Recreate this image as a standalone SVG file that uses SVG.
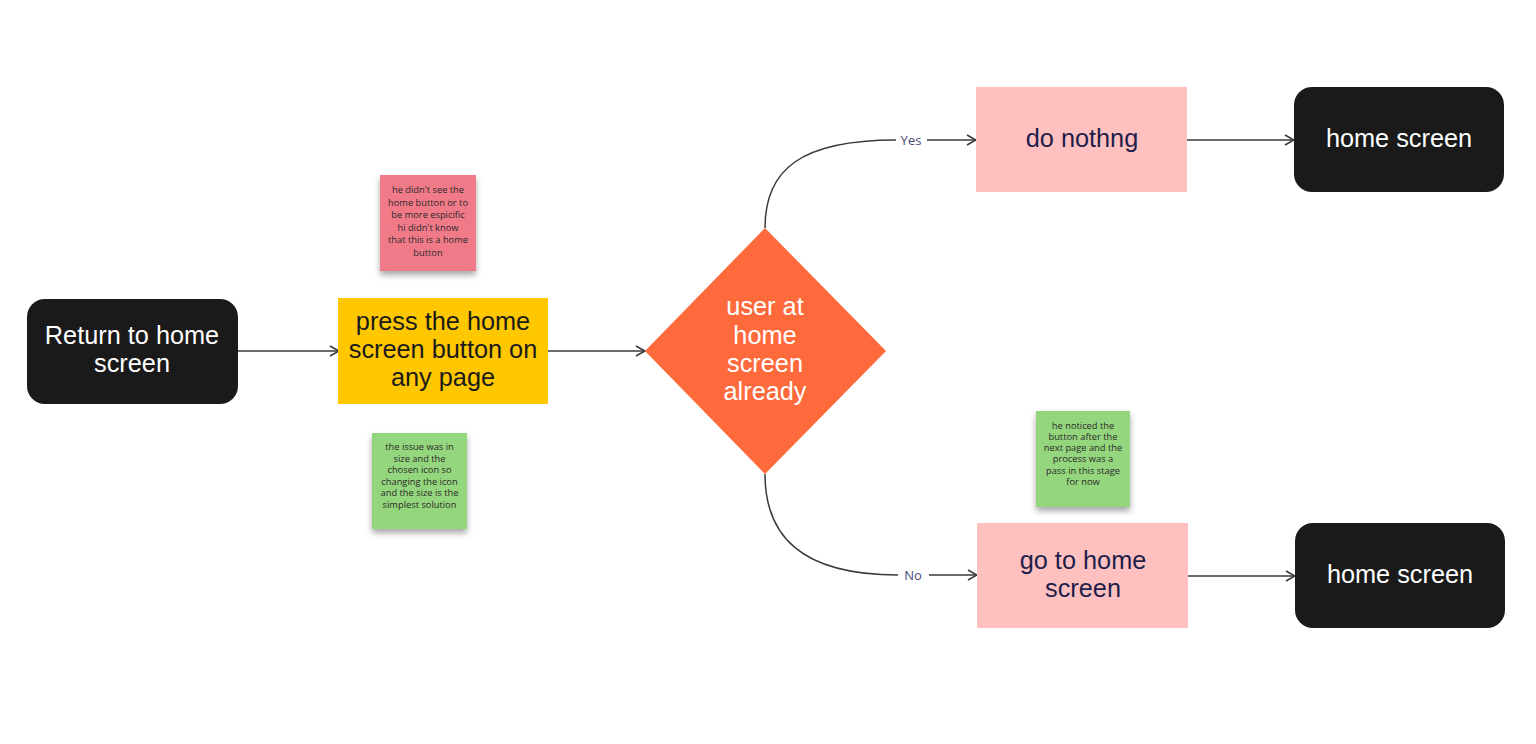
<svg xmlns="http://www.w3.org/2000/svg" width="1536" height="744" viewBox="0 0 1536 744">
<defs>
<marker id="arr" viewBox="0 0 12 12" refX="11" refY="6" markerWidth="12" markerHeight="12" markerUnits="userSpaceOnUse" orient="auto">
<path d="M2,1 L11,6 L2,11" fill="none" stroke="#3a3a3a" stroke-width="1.6"/>
</marker>
<filter id="sh" x="-20%" y="-20%" width="140%" height="150%">
<feGaussianBlur in="SourceAlpha" stdDeviation="3"/>
<feOffset dx="0" dy="4"/>
<feComponentTransfer><feFuncA type="linear" slope="0.35"/></feComponentTransfer>
<feMerge><feMergeNode/><feMergeNode in="SourceGraphic"/></feMerge>
</filter>
</defs>
<style>
.t{font-family:"Liberation Sans",Arial,sans-serif;font-size:25.3px;text-anchor:middle}
.w{fill:#ffffff}
.d{fill:#1a1a1a}
.n{fill:#1e1e4a}
.s{font-family:"Open Sans","Liberation Sans",sans-serif;font-size:9.3px;text-anchor:middle;fill:#2a2a2a}
.lbl{font-family:"Open Sans","Liberation Sans",sans-serif;font-size:13px;fill:#4a4a7a;text-anchor:middle}
.c{fill:none;stroke:#3a3a3a;stroke-width:1.5}
</style>
<rect width="1536" height="744" fill="#ffffff"/>
<g id="connectors">
<line class="c" x1="238" y1="351" x2="339" y2="351" marker-end="url(#arr)"/>
<line class="c" x1="548" y1="351" x2="645" y2="351" marker-end="url(#arr)"/>
<path class="c" d="M765,228 C765,170 800,140 896,140"/>
<line class="c" x1="927" y1="140" x2="976" y2="140" marker-end="url(#arr)"/>
<path class="c" d="M765,474 C765,535 800,575 898,575"/>
<line class="c" x1="929" y1="575" x2="977" y2="575" marker-end="url(#arr)"/>
<line class="c" x1="1187" y1="140" x2="1294" y2="140" marker-end="url(#arr)"/>
<line class="c" x1="1188" y1="576" x2="1295" y2="576" marker-end="url(#arr)"/>
<text class="lbl" x="911" y="144.5">Yes</text>
<text class="lbl" x="913" y="579.5">No</text>
</g>
<g id="start">
<rect x="27" y="299" width="211" height="105" rx="18" fill="#1a1a1a"/>
<text class="t w" x="132" y="344">Return to home</text>
<text class="t w" x="132" y="372">screen</text>
</g>
<g id="press">
<rect x="338" y="298" width="210" height="106" fill="#ffc700"/>
<text class="t d" x="443" y="330">press the home</text>
<text class="t d" x="443" y="358">screen button on</text>
<text class="t d" x="443" y="386">any page</text>
</g>
<g id="decision">
<polygon points="765,228 886,351 765,474 645,351" fill="#ff6a3c"/>
<text class="t w" x="765" y="315">user at</text>
<text class="t w" x="765" y="344">home</text>
<text class="t w" x="765" y="372">screen</text>
<text class="t w" x="765" y="400">already</text>
</g>
<g id="donothing">
<rect x="976" y="87" width="211" height="105" fill="#ffc0c0"/>
<text class="t n" x="1082" y="147">do nothng</text>
</g>
<g id="gotohome">
<rect x="977" y="523" width="211" height="105" fill="#ffc0c0"/>
<text class="t n" x="1083" y="569">go to home</text>
<text class="t n" x="1083" y="597">screen</text>
</g>
<g id="home1">
<rect x="1294" y="87" width="210" height="105" rx="18" fill="#1a1a1a"/>
<text class="t w" x="1399" y="147">home screen</text>
</g>
<g id="home2">
<rect x="1295" y="523" width="210" height="105" rx="18" fill="#1a1a1a"/>
<text class="t w" x="1400" y="583">home screen</text>
</g>
<g id="note-red">
<rect x="380" y="175" width="96" height="96" fill="#f17a89" filter="url(#sh)"/>
<text class="s" x="428" y="193">he didn't see the</text>
<text class="s" x="428" y="205.5">home button or to</text>
<text class="s" x="428" y="218">be more espicific</text>
<text class="s" x="428" y="230.5">hi didn't know</text>
<text class="s" x="428" y="243">that this is a home</text>
<text class="s" x="428" y="256">button</text>
</g>
<g id="note-green1">
<rect x="372" y="433" width="95" height="96" fill="#94d67d" filter="url(#sh)"/>
<text class="s" x="419.5" y="450">the issue was in</text>
<text class="s" x="419.5" y="461.5">size and the</text>
<text class="s" x="419.5" y="473">chosen icon so</text>
<text class="s" x="419.5" y="484.5">changing the icon</text>
<text class="s" x="419.5" y="496">and the size is the</text>
<text class="s" x="419.5" y="507.5">simplest solution</text>
</g>
<g id="note-green2">
<rect x="1036" y="411" width="94" height="96" fill="#94d67d" filter="url(#sh)"/>
<text class="s" x="1083" y="428.5">he noticed the</text>
<text class="s" x="1083" y="440">button after the</text>
<text class="s" x="1083" y="451">next page and the</text>
<text class="s" x="1083" y="462">process was a</text>
<text class="s" x="1083" y="473.5">pass in this stage</text>
<text class="s" x="1083" y="485">for now</text>
</g>
</svg>
